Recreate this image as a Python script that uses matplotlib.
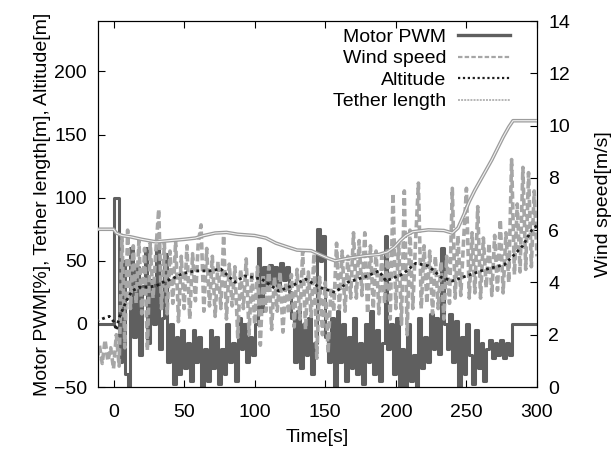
import numpy as np
import matplotlib
matplotlib.use("Agg")
import matplotlib.pyplot as plt
from matplotlib.lines import Line2D

plt.rcParams['font.family'] = ['Liberation Sans', 'DejaVu Sans']
plt.rcParams['font.size'] = 14

# sample times for the noisy series (every 2 s, from -12 s to 300 s)
t_start, t_step = -12, 2

# Motor PWM [%] (left axis)
pwm = [0, 0, 0, 0, 0, 0,
       100, 100, -30, 50, -40,
       -50, 60, -10, 45, -25, 30, 60, -15, 35, 0,
       62, -20, 5, 55, -30, 0, -48, -10, -40, -5,
       -35, -15, -45, -5, -30, -10, -50, -20, -45, -5,
       -35, -10, -48, -20, -40, 0, -30, -15, -45, 5,
       -20, 0, -30, -10, -25, 0, 60, 10, 45, 30,
       47, 32, 45, 30, 48, 35, 45, 25, 5, -30,
       10, -35, 0, -25, 5, -40, -15, 75, 50, 70,
       -10, -30, 5, -50, 10, -30, 0, -45, -10, -35,
       5, -40, -15, -48, 0, -30, 10, -40, -5, -45,
       -15, 70, -20, 0, -40, 5, -50, -20, -50, 0,
       -45, -25, -50, 5, -35, -10, -30, 8, -20, 5,
       -24, 60, 0, -20, 8, -30, 2, -50, -10, -40,
       0, -25, -48, -5, -35, -15, -45, -20, -13, -27,
       -15, -25, -13, -27, -15, -25, 0, 0, 0, 0,
       0, 0, 0, 0, 0, 0]

# Wind speed [m/s] (right axis)
wind = [0.8, 1.6, 0.9, 1.8, 1.0, 1.5,
        0.7, 2.0, 0.8, 5.8, 1.5,
        6.0, 3.0, 5.4, 3.2, 5.6, 2.8, 5.3, 1.4, 5.5, 3.4,
        5.2, 6.8, 3.0, 5.5, 2.8, 5.2, 3.2, 5.6, 2.5, 5.0,
        3.0, 5.4, 2.6, 5.1, 3.3, 5.5, 6.2, 2.9, 5.3, 3.1,
        5.0, 2.7, 4.8, 3.0, 5.8, 2.6, 4.7, 3.1, 4.6, 1.9,
        4.5, 3.0, 4.9, 2.0, 4.4, 2.4, 4.6, 1.6, 4.3, 2.9,
        4.6, 2.2, 4.2, 2.9, 4.4, 2.1, 4.0, 2.8, 4.3, 2.3,
        4.5, 2.6, 5.2, 2.2, 4.4, 2.7, 5.1, 1.1, 4.2, 2.0,
        4.0, 1.3, 3.8, 2.9, 5.5, 3.0, 5.2, 2.9, 5.0, 3.4,
        5.9, 3.4, 5.6, 3.5, 5.9, 2.8, 5.4, 3.0, 5.2, 2.8,
        5.0, 3.2, 5.3, 2.6, 7.4, 3.0, 5.5, 2.4, 7.5, 2.0,
        6.0, 3.0, 5.6, 7.8, 3.0, 5.4, 3.2, 5.2, 2.8, 5.0,
        3.0, 4.8, 2.6, 5.0, 3.2, 7.6, 3.4, 5.8, 3.5, 5.6,
        7.6, 3.4, 5.9, 3.6, 6.9, 3.4, 5.7, 3.8, 5.5, 3.5,
        5.8, 3.7, 6.4, 3.6, 5.9, 4.0, 8.7, 4.3, 7.0, 4.4,
        8.4, 4.5, 8.2, 4.6, 7.5, 5.0]

# Altitude [m] (left axis)
alt_t = [-12, -8, -3, 0, 2, 4, 9, 13, 18, 23, 30, 35, 42, 49, 58, 68, 76, 86,
         93, 105, 117, 126, 136, 146, 157, 166, 180, 188, 193, 205, 214, 223,
         232, 240, 250, 263, 277, 284, 290, 296, 300]
alt = [2, 4, 6, 2, -5, 5, 18, 26, 29, 29, 30, 33, 36, 40, 42, 42, 43.5, 33,
       38, 35.5, 26, 30, 35.5, 29, 25, 33, 38, 42, 34, 39.5, 48, 46,
       37, 34, 38, 43, 47, 55, 62, 74, 78]

# Tether length [m] (left axis)
teth_t = [-12, 0, 2, 6, 12, 20, 30, 40, 50, 58, 64, 72, 80, 88, 100, 108,
          115, 123, 130, 140, 146, 152, 157, 166, 178, 188, 194, 199, 203,
          207, 212, 223, 234, 240, 244, 248, 252, 256, 260, 264, 268, 272,
          276, 280, 283, 300]
teth = [75, 75, 72, 70, 69, 67, 65, 66, 67, 68, 70, 72, 72.5, 71, 70, 68,
        64, 61, 58.5, 58, 55, 52, 50, 52, 54, 55, 57, 61, 66,
        70, 73, 74.5, 74, 72, 76, 86, 97, 106, 114, 122, 130, 139,
        148, 156, 161, 161]

t = t_start + t_step * np.arange(len(pwm))

c_pwm = '#5f5f5f'
c_wind = '#a6a6a6'
c_alt = '#1e1e1e'
c_teth = '#9c9c9c'

fig = plt.figure(figsize=(6.14, 4.5), dpi=100)
ax = fig.add_axes([0.1596, 0.14, 0.715, 0.8133])
ax2 = ax.twinx()
ax3 = ax.twinx()

# PWM at the bottom, wind in the middle, altitude/tether on top
ax.plot(t, pwm, color=c_pwm, lw=2.2, drawstyle='steps-post')
ax2.plot(t, wind, color=c_wind, lw=2.6, ls=(0, (2, 1)))
ax3.plot(alt_t, alt, color=c_alt, lw=2.0, ls=(0, (1, 1.2)))
ax3.plot(teth_t, teth, color=c_teth, lw=2.6)
ax3.plot(teth_t, teth, color='#f2f2f2', lw=0.8)

ax.set_xlim(-11, 300)
ax.set_ylim(-50, 240)
ax2.set_ylim(0, 14)
ax3.set_ylim(-50, 240)
ax3.axis('off')

ax.set_xticks(np.arange(0, 301, 50))
ax.set_yticks(np.arange(-50, 201, 50))
ax2.set_yticks(np.arange(0, 15, 2))

ax.tick_params(axis='x', direction='in', top=True, length=5, pad=12)
ax.tick_params(axis='y', direction='in', right=False, length=5, pad=8)
ax2.tick_params(axis='y', direction='in', length=5, pad=8)

ax.set_xlabel('Time[s]', labelpad=6)
ax.set_ylabel('Motor PWM[%], Tether length[m], Altitude[m]', labelpad=2)
ax2.set_ylabel('Wind speed[m/s]', labelpad=18)

handles = [
    Line2D([], [], color=c_pwm, lw=2.4),
    Line2D([], [], color=c_wind, lw=1.6, ls=(0, (2, 1))),
    Line2D([], [], color=c_alt, lw=1.6, ls=(0, (1, 1.2))),
    Line2D([], [], color='#b5b5b5', lw=1.4, ls=(0, (1, 0.6))),
]
labels = ['Motor PWM', 'Wind speed', 'Altitude', 'Tether length']
ax3.legend(handles, labels, loc='upper right', bbox_to_anchor=(0.939, 0.98),
           frameon=False, markerfirst=False, borderpad=0, borderaxespad=0,
           handlelength=2.7, handletextpad=0.6, labelspacing=0.2)

fig.savefig('out.png', dpi=100)
